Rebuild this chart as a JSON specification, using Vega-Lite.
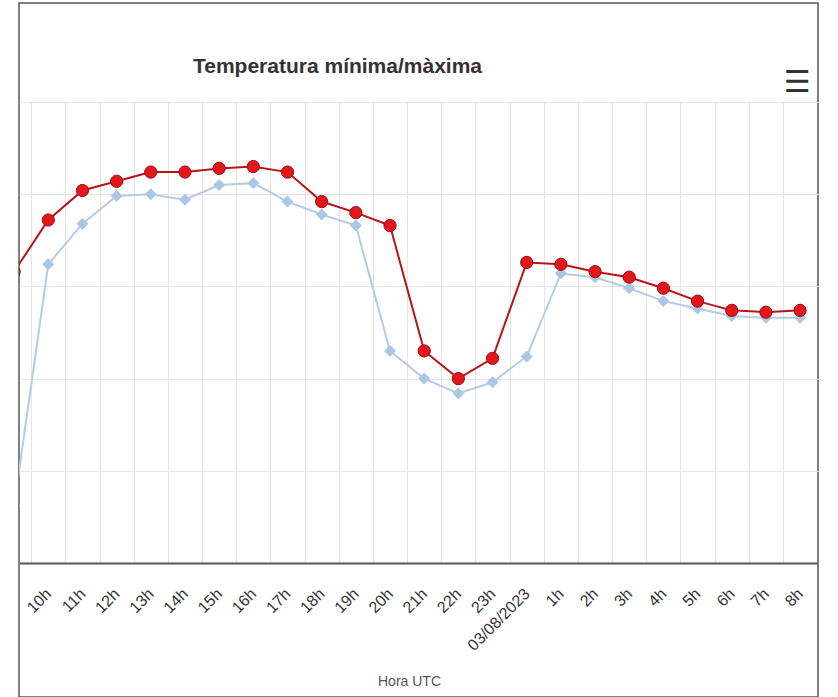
{
  "$schema": "https://vega.github.io/schema/vega-lite/v6.json",
  "width": 799,
  "height": 694,
  "autosize": {"type": "none"},
  "padding": {"left": 19, "top": 3, "right": 20, "bottom": 0},
  "background": "white",
  "config": {"view": {"stroke": "#555555", "strokeWidth": 1.5}, "font": "Liberation Sans"},
  "title": {
    "text": "Temperatura mínima/màxima",
    "anchor": "middle",
    "frame": "group",
    "offset": 0,
    "dx": -81,
    "dy": 91,
    "baseline": "alphabetic",
    "fontSize": 21,
    "fontWeight": "bold",
    "color": "#333333",
    "font": "Liberation Sans"
  },
  "data": {
    "values": [
      {"hora": "2023-08-02T09:00:00Z", "serie": "Mínima", "temp": 13.1},
      {"hora": "2023-08-02T10:00:00Z", "serie": "Mínima", "temp": 26.2},
      {"hora": "2023-08-02T11:00:00Z", "serie": "Mínima", "temp": 28.4},
      {"hora": "2023-08-02T12:00:00Z", "serie": "Mínima", "temp": 29.9},
      {"hora": "2023-08-02T13:00:00Z", "serie": "Mínima", "temp": 30.0},
      {"hora": "2023-08-02T14:00:00Z", "serie": "Mínima", "temp": 29.7},
      {"hora": "2023-08-02T15:00:00Z", "serie": "Mínima", "temp": 30.5},
      {"hora": "2023-08-02T16:00:00Z", "serie": "Mínima", "temp": 30.6},
      {"hora": "2023-08-02T17:00:00Z", "serie": "Mínima", "temp": 29.6},
      {"hora": "2023-08-02T18:00:00Z", "serie": "Mínima", "temp": 28.9},
      {"hora": "2023-08-02T19:00:00Z", "serie": "Mínima", "temp": 28.3},
      {"hora": "2023-08-02T20:00:00Z", "serie": "Mínima", "temp": 21.5},
      {"hora": "2023-08-02T21:00:00Z", "serie": "Mínima", "temp": 20.0},
      {"hora": "2023-08-02T22:00:00Z", "serie": "Mínima", "temp": 19.2},
      {"hora": "2023-08-02T23:00:00Z", "serie": "Mínima", "temp": 19.8},
      {"hora": "2023-08-03T00:00:00Z", "serie": "Mínima", "temp": 21.2},
      {"hora": "2023-08-03T01:00:00Z", "serie": "Mínima", "temp": 25.7},
      {"hora": "2023-08-03T02:00:00Z", "serie": "Mínima", "temp": 25.5},
      {"hora": "2023-08-03T03:00:00Z", "serie": "Mínima", "temp": 24.9},
      {"hora": "2023-08-03T04:00:00Z", "serie": "Mínima", "temp": 24.2},
      {"hora": "2023-08-03T05:00:00Z", "serie": "Mínima", "temp": 23.8},
      {"hora": "2023-08-03T06:00:00Z", "serie": "Mínima", "temp": 23.4},
      {"hora": "2023-08-03T07:00:00Z", "serie": "Mínima", "temp": 23.3},
      {"hora": "2023-08-03T08:00:00Z", "serie": "Mínima", "temp": 23.3},
      {"hora": "2023-08-02T09:00:00Z", "serie": "Màxima", "temp": 25.8},
      {"hora": "2023-08-02T10:00:00Z", "serie": "Màxima", "temp": 28.6},
      {"hora": "2023-08-02T11:00:00Z", "serie": "Màxima", "temp": 30.2},
      {"hora": "2023-08-02T12:00:00Z", "serie": "Màxima", "temp": 30.7},
      {"hora": "2023-08-02T13:00:00Z", "serie": "Màxima", "temp": 31.2},
      {"hora": "2023-08-02T14:00:00Z", "serie": "Màxima", "temp": 31.2},
      {"hora": "2023-08-02T15:00:00Z", "serie": "Màxima", "temp": 31.4},
      {"hora": "2023-08-02T16:00:00Z", "serie": "Màxima", "temp": 31.5},
      {"hora": "2023-08-02T17:00:00Z", "serie": "Màxima", "temp": 31.2},
      {"hora": "2023-08-02T18:00:00Z", "serie": "Màxima", "temp": 29.6},
      {"hora": "2023-08-02T19:00:00Z", "serie": "Màxima", "temp": 29.0},
      {"hora": "2023-08-02T20:00:00Z", "serie": "Màxima", "temp": 28.3},
      {"hora": "2023-08-02T21:00:00Z", "serie": "Màxima", "temp": 21.5},
      {"hora": "2023-08-02T22:00:00Z", "serie": "Màxima", "temp": 20.0},
      {"hora": "2023-08-02T23:00:00Z", "serie": "Màxima", "temp": 21.1},
      {"hora": "2023-08-03T00:00:00Z", "serie": "Màxima", "temp": 26.3},
      {"hora": "2023-08-03T01:00:00Z", "serie": "Màxima", "temp": 26.2},
      {"hora": "2023-08-03T02:00:00Z", "serie": "Màxima", "temp": 25.8},
      {"hora": "2023-08-03T03:00:00Z", "serie": "Màxima", "temp": 25.5},
      {"hora": "2023-08-03T04:00:00Z", "serie": "Màxima", "temp": 24.9},
      {"hora": "2023-08-03T05:00:00Z", "serie": "Màxima", "temp": 24.2},
      {"hora": "2023-08-03T06:00:00Z", "serie": "Màxima", "temp": 23.7},
      {"hora": "2023-08-03T07:00:00Z", "serie": "Màxima", "temp": 23.6},
      {"hora": "2023-08-03T08:00:00Z", "serie": "Màxima", "temp": 23.7}
    ]
  },
  "layer": [
    {
      "mark": {"type": "line", "strokeWidth": 2, "clip": true},
      "encoding": {
        "x": {
          "field": "hora",
          "type": "temporal",
          "scale": {
            "type": "utc",
            "domain": [
              {"year": 2023, "month": 8, "date": 2, "hours": 9, "minutes": 8, "seconds": 36, "utc": true},
              {"year": 2023, "month": 8, "date": 3, "hours": 8, "minutes": 31, "seconds": 26, "utc": true}
            ],
            "nice": false
          },
          "axis": {
            "orient": "bottom",
            "offset": -134,
            "values": [
              {"year": 2023, "month": 8, "date": 2, "hours": 10, "utc": true},
              {"year": 2023, "month": 8, "date": 2, "hours": 11, "utc": true},
              {"year": 2023, "month": 8, "date": 2, "hours": 12, "utc": true},
              {"year": 2023, "month": 8, "date": 2, "hours": 13, "utc": true},
              {"year": 2023, "month": 8, "date": 2, "hours": 14, "utc": true},
              {"year": 2023, "month": 8, "date": 2, "hours": 15, "utc": true},
              {"year": 2023, "month": 8, "date": 2, "hours": 16, "utc": true},
              {"year": 2023, "month": 8, "date": 2, "hours": 17, "utc": true},
              {"year": 2023, "month": 8, "date": 2, "hours": 18, "utc": true},
              {"year": 2023, "month": 8, "date": 2, "hours": 19, "utc": true},
              {"year": 2023, "month": 8, "date": 2, "hours": 20, "utc": true},
              {"year": 2023, "month": 8, "date": 2, "hours": 21, "utc": true},
              {"year": 2023, "month": 8, "date": 2, "hours": 22, "utc": true},
              {"year": 2023, "month": 8, "date": 2, "hours": 23, "utc": true},
              {"year": 2023, "month": 8, "date": 3, "hours": 0, "utc": true},
              {"year": 2023, "month": 8, "date": 3, "hours": 1, "utc": true},
              {"year": 2023, "month": 8, "date": 3, "hours": 2, "utc": true},
              {"year": 2023, "month": 8, "date": 3, "hours": 3, "utc": true},
              {"year": 2023, "month": 8, "date": 3, "hours": 4, "utc": true},
              {"year": 2023, "month": 8, "date": 3, "hours": 5, "utc": true},
              {"year": 2023, "month": 8, "date": 3, "hours": 6, "utc": true},
              {"year": 2023, "month": 8, "date": 3, "hours": 7, "utc": true},
              {"year": 2023, "month": 8, "date": 3, "hours": 8, "utc": true}
            ],
            "labelExpr": "utchours(datum.value) == 0 ? utcFormat(datum.value, '%d/%m/%Y') : utchours(datum.value) + 'h'",
            "labelAngle": -45,
            "labelAlign": "right",
            "labelBaseline": "middle",
            "labelPadding": 28,
            "labelFontSize": 16,
            "labelColor": "#333333",
            "labelFont": "Liberation Sans",
            "labelOverlap": false,
            "labelFlush": false,
            "labelBound": false,
            "ticks": false,
            "grid": false,
            "domain": true,
            "domainColor": "#555555",
            "domainWidth": 2,
            "title": "Hora UTC",
            "titleX": 390,
            "titleY": 122,
            "titleAlign": "center",
            "titleBaseline": "alphabetic",
            "titleFontSize": 14,
            "titleFontWeight": "normal",
            "titleColor": "#555555",
            "titleFont": "Liberation Sans"
          }
        },
        "y": {
          "field": "temp",
          "type": "quantitative",
          "scale": {"domain": [10, 35], "range": [560, 99], "nice": false, "zero": false},
          "axis": {
            "orient": "right",
            "values": [10, 15, 20, 25, 30, 35],
            "grid": true,
            "gridColor": "#e6e6e6",
            "gridWidth": 1,
            "labels": false,
            "ticks": false,
            "domain": false,
            "title": "☰",
            "titleAngle": 0,
            "titleX": -21,
            "titleY": 79,
            "titleAlign": "center",
            "titleBaseline": "middle",
            "titleFontSize": 30,
            "titleFontWeight": "bold",
            "titleColor": "#333333",
            "titleFont": "DejaVu Sans"
          }
        },
        "color": {
          "field": "serie",
          "type": "nominal",
          "scale": {"domain": ["Mínima", "Màxima"], "range": ["#b4cce4", "#b81418"]},
          "legend": null
        }
      }
    },
    {
      "mark": {"type": "point", "filled": true, "strokeWidth": 1, "opacity": 1, "clip": true},
      "encoding": {
        "x": {
          "field": "hora",
          "type": "temporal",
          "axis": {
            "orient": "top",
            "values": [
              {"year": 2023, "month": 8, "date": 2, "hours": 9, "minutes": 30, "utc": true},
              {"year": 2023, "month": 8, "date": 2, "hours": 10, "minutes": 30, "utc": true},
              {"year": 2023, "month": 8, "date": 2, "hours": 11, "minutes": 30, "utc": true},
              {"year": 2023, "month": 8, "date": 2, "hours": 12, "minutes": 30, "utc": true},
              {"year": 2023, "month": 8, "date": 2, "hours": 13, "minutes": 30, "utc": true},
              {"year": 2023, "month": 8, "date": 2, "hours": 14, "minutes": 30, "utc": true},
              {"year": 2023, "month": 8, "date": 2, "hours": 15, "minutes": 30, "utc": true},
              {"year": 2023, "month": 8, "date": 2, "hours": 16, "minutes": 30, "utc": true},
              {"year": 2023, "month": 8, "date": 2, "hours": 17, "minutes": 30, "utc": true},
              {"year": 2023, "month": 8, "date": 2, "hours": 18, "minutes": 30, "utc": true},
              {"year": 2023, "month": 8, "date": 2, "hours": 19, "minutes": 30, "utc": true},
              {"year": 2023, "month": 8, "date": 2, "hours": 20, "minutes": 30, "utc": true},
              {"year": 2023, "month": 8, "date": 2, "hours": 21, "minutes": 30, "utc": true},
              {"year": 2023, "month": 8, "date": 2, "hours": 22, "minutes": 30, "utc": true},
              {"year": 2023, "month": 8, "date": 2, "hours": 23, "minutes": 30, "utc": true},
              {"year": 2023, "month": 8, "date": 3, "hours": 0, "minutes": 30, "utc": true},
              {"year": 2023, "month": 8, "date": 3, "hours": 1, "minutes": 30, "utc": true},
              {"year": 2023, "month": 8, "date": 3, "hours": 2, "minutes": 30, "utc": true},
              {"year": 2023, "month": 8, "date": 3, "hours": 3, "minutes": 30, "utc": true},
              {"year": 2023, "month": 8, "date": 3, "hours": 4, "minutes": 30, "utc": true},
              {"year": 2023, "month": 8, "date": 3, "hours": 5, "minutes": 30, "utc": true},
              {"year": 2023, "month": 8, "date": 3, "hours": 6, "minutes": 30, "utc": true},
              {"year": 2023, "month": 8, "date": 3, "hours": 7, "minutes": 30, "utc": true}
            ],
            "grid": true,
            "gridColor": "#e6e6e6",
            "gridWidth": 1,
            "labels": false,
            "ticks": false,
            "domain": false,
            "title": null
          }
        },
        "y": {
          "field": "temp",
          "type": "quantitative"
        },
        "fill": {
          "field": "serie",
          "type": "nominal",
          "scale": {"domain": ["Mínima", "Màxima"], "range": ["#abc7e4", "#e5151c"]},
          "legend": null
        },
        "stroke": {
          "field": "serie",
          "type": "nominal",
          "scale": {"domain": ["Mínima", "Màxima"], "range": ["#abc7e4", "#9c0c10"]},
          "legend": null
        },
        "shape": {
          "field": "serie",
          "type": "nominal",
          "scale": {"domain": ["Mínima", "Màxima"], "range": ["diamond", "circle"]},
          "legend": null
        },
        "size": {
          "field": "serie",
          "type": "nominal",
          "scale": {"domain": ["Mínima", "Màxima"], "range": [120, 150]},
          "legend": null
        }
      }
    }
  ],
  "resolve": {"axis": {"x": "independent"}}
}
